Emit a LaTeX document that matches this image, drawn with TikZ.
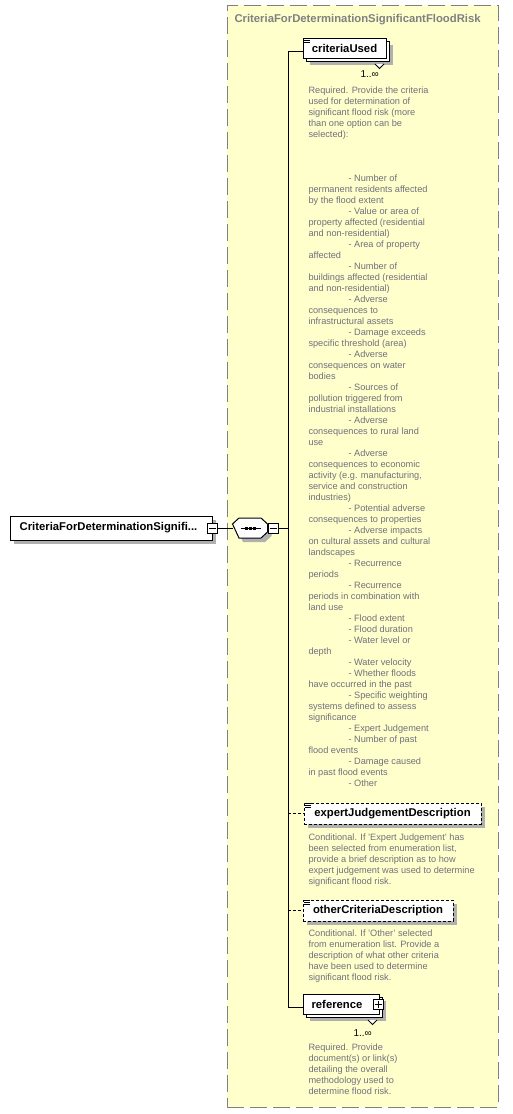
\documentclass[tikz,border=0pt]{standalone}
\usepackage{fontspec}
\setmainfont{Liberation Sans}
\usepackage{xcolor}
\usepackage{tikz}
\usetikzlibrary{positioning}
\definecolor{annoyellow}{RGB}{255,255,204}
\definecolor{annogray}{RGB}{112,112,124}
\definecolor{framegray}{RGB}{128,128,128}
\definecolor{shadowgray}{RGB}{176,176,176}
\newcommand{\annoindent}{\hspace*{40pt}}

\begin{document}
\begin{tikzpicture}[x=1pt, y=-1pt, line width=1pt,
  elem/.style={draw, fill=white, inner sep=0pt, minimum height=20pt,
    font=\fontsize{11.3}{13}\selectfont\bfseries},
  single/.style={elem,
    preaction={fill=shadowgray, draw=none, transform canvas={shift={(4pt,-4pt)}}}},
  stacked/.style={elem,
    preaction={fill=shadowgray, draw=none, transform canvas={shift={(7pt,-7pt)}}},
    preaction={fill=white, draw=black, transform canvas={shift={(3pt,-3pt)}}}},
  optional/.style={dash pattern=on 3pt off 2pt},
  pmbox/.style={draw, fill=white, inner sep=0pt, minimum size=10pt},
  seqnode/.style={inner sep=0pt, minimum width=35pt, minimum height=20pt},
  groupbox/.style={draw=framegray, fill=annoyellow, dash pattern=on 17pt off 6pt, inner sep=0pt},
  anno/.style={anchor=north west, inner sep=0pt, align=left, text=annogray,
    font=\fontsize{9.2}{11}\selectfont},
  occurs/.style={anchor=base west, inner sep=0pt, font=\fontsize{10}{12}\selectfont}]
  \fill[white] (0,0) rectangle (513,1114);

  % complex type frame
  \node[groupbox, minimum width=271pt, minimum height=1102pt] (grp) at (362.5,556) {};
  \node[anchor=base west, inner sep=0pt, text=framegray,
    font=\fontsize{11.3}{13}\selectfont\bfseries] (title) at (234,22.5)
    {CriteriaForDeterminationSignificantFloodRisk};

  % root element and sequence
  \node[single, minimum width=202pt, minimum height=24pt] (root) at (111,528)
    {CriteriaForDeterminationSignifi...\hspace*{5pt}};
  \node[pmbox] (rootminus) at (root.east) {};
  \node[seqnode] (seq) at (250.5,528) {};
  \fill[shadowgray] ([shift={(4,4)}]seq.west) ++(0,-4) -- ++(6.5,-6) -- ++(22,0) -- ++(6.5,6)
    -- ++(0,8) -- ++(-6.5,6) -- ++(-22,0) -- cycle;
  \filldraw[fill=white] (seq.west) ++(0,-4) -- ++(6.5,-6) -- ++(22,0) -- ++(6.5,6)
    -- ++(0,8) -- ++(-6.5,6) -- ++(-22,0) -- cycle;
  \node[pmbox] (seqminus) at (273,528) {};
  \draw ([xshift=2pt]rootminus.west) -- ([xshift=-2pt]rootminus.east);
  \draw ([xshift=2pt]seqminus.west) -- ([xshift=-2pt]seqminus.east);
  \draw ([xshift=-10pt]seq.center) -- ([xshift=10pt]seq.center);
  \foreach \dx in {-4,0,4}
    \fill ([xshift=\dx pt]seq.center) +(-1.5,-1.5) rectangle +(1.5,1.5);
  \coordinate (spine) at (288,528);

  % child elements
  \node[stacked, minimum width=83pt] (cu) at (344.5,48) {criteriaUsed};
  \node[single, optional, minimum width=177pt, minimum height=21pt] (ejd) at (392.5,813.5)
    {expertJudgementDescription};
  \node[single, optional, minimum width=150pt, minimum height=21pt] (ocd) at (378,910.5)
    {otherCriteriaDescription};
  \node[stacked, minimum width=76pt] (ref) at (341,1004) {reference\hspace*{8pt}};
  \node[pmbox] (refplus) at (378.5,1004.5) {};
  \draw ([xshift=2pt]refplus.west) -- ([xshift=-2pt]refplus.east);
  \draw ([yshift=-2pt]refplus.north) -- ([yshift=2pt]refplus.south);

  % simple content marks and repeat notches
  \foreach \n in {cu,ejd,ocd}
    \foreach \k in {1,3,5}
      \draw ([shift={(1.5,\k)}]\n.north west) -- ++(5.5,0);
  \foreach \n in {cu,ref}
    \filldraw[fill=white] ([shift={(-11.5,5.5)}]\n.south east) -- ++(4.5,4.5) -- ++(4.5,-4.5);
  \node[occurs] (cuocc) at (360,77) {1..∞};
  \node[occurs] (refocc) at (353,1036) {1..∞};

  % connectors
  \draw (rootminus) -- (seq);
  \draw (seqminus) -- (spine);
  \draw ([yshift=-3pt]cu.west) -| (spine);
  \draw (spine) |- ([yshift=-3pt]ref.west);
  \draw[optional] (spine |- ejd.west) -- (ejd.west);
  \draw[optional] (spine |- ocd.west) -- (ocd.west);

  % annotations
  \node[anno] (cudoc) at (308,86.8) {Required. Provide the criteria\\
used for determination of\\
significant flood risk (more\\
than one option can be\\
selected):\\
\mbox{}\\ \mbox{}\\ \mbox{}\\
\annoindent- Number of\\
permanent residents affected\\
by the flood extent\\
\annoindent- Value or area of\\
property affected (residential\\
and non-residential)\\
\annoindent- Area of property\\
affected\\
\annoindent- Number of\\
buildings affected (residential\\
and non-residential)\\
\annoindent- Adverse\\
consequences to\\
infrastructural assets\\
\annoindent- Damage exceeds\\
specific threshold (area)\\
\annoindent- Adverse\\
consequences on water\\
bodies\\
\annoindent- Sources of\\
pollution triggered from\\
industrial installations\\
\annoindent- Adverse\\
consequences to rural land\\
use\\
\annoindent- Adverse\\
consequences to economic\\
activity (e.g. manufacturing,\\
service and construction\\
industries)\\
\annoindent- Potential adverse\\
consequences to properties\\
\annoindent- Adverse impacts\\
on cultural assets and cultural\\
landscapes\\
\annoindent- Recurrence\\
periods\\
\annoindent- Recurrence\\
periods in combination with\\
land use\\
\annoindent- Flood extent\\
\annoindent- Flood duration\\
\annoindent- Water level or\\
depth\\
\annoindent- Water velocity\\
\annoindent- Whether floods\\
have occurred in the past\\
\annoindent- Specific weighting\\
systems defined to assess\\
significance\\
\annoindent- Expert Judgement\\
\annoindent- Number of past\\
flood events\\
\annoindent- Damage caused\\
in past flood events\\
\annoindent- Other};
  \node[anno] (ejddoc) at (308,833.3) {Conditional. If 'Expert Judgement' has\\
been selected from enumeration list,\\
provide a brief description as to how\\
expert judgement was used to determine\\
significant flood risk.};
  \node[anno] (ocddoc) at (308,929.3) {Conditional. If 'Other' selected\\
from enumeration list. Provide a\\
description of what other criteria\\
have been used to determine\\
significant flood risk.};
  \node[anno] (refdoc) at (308,1043.3) {Required. Provide\\
document(s) or link(s)\\
detailing the overall\\
methodology used to\\
determine flood risk.};
\end{tikzpicture}
\end{document}
